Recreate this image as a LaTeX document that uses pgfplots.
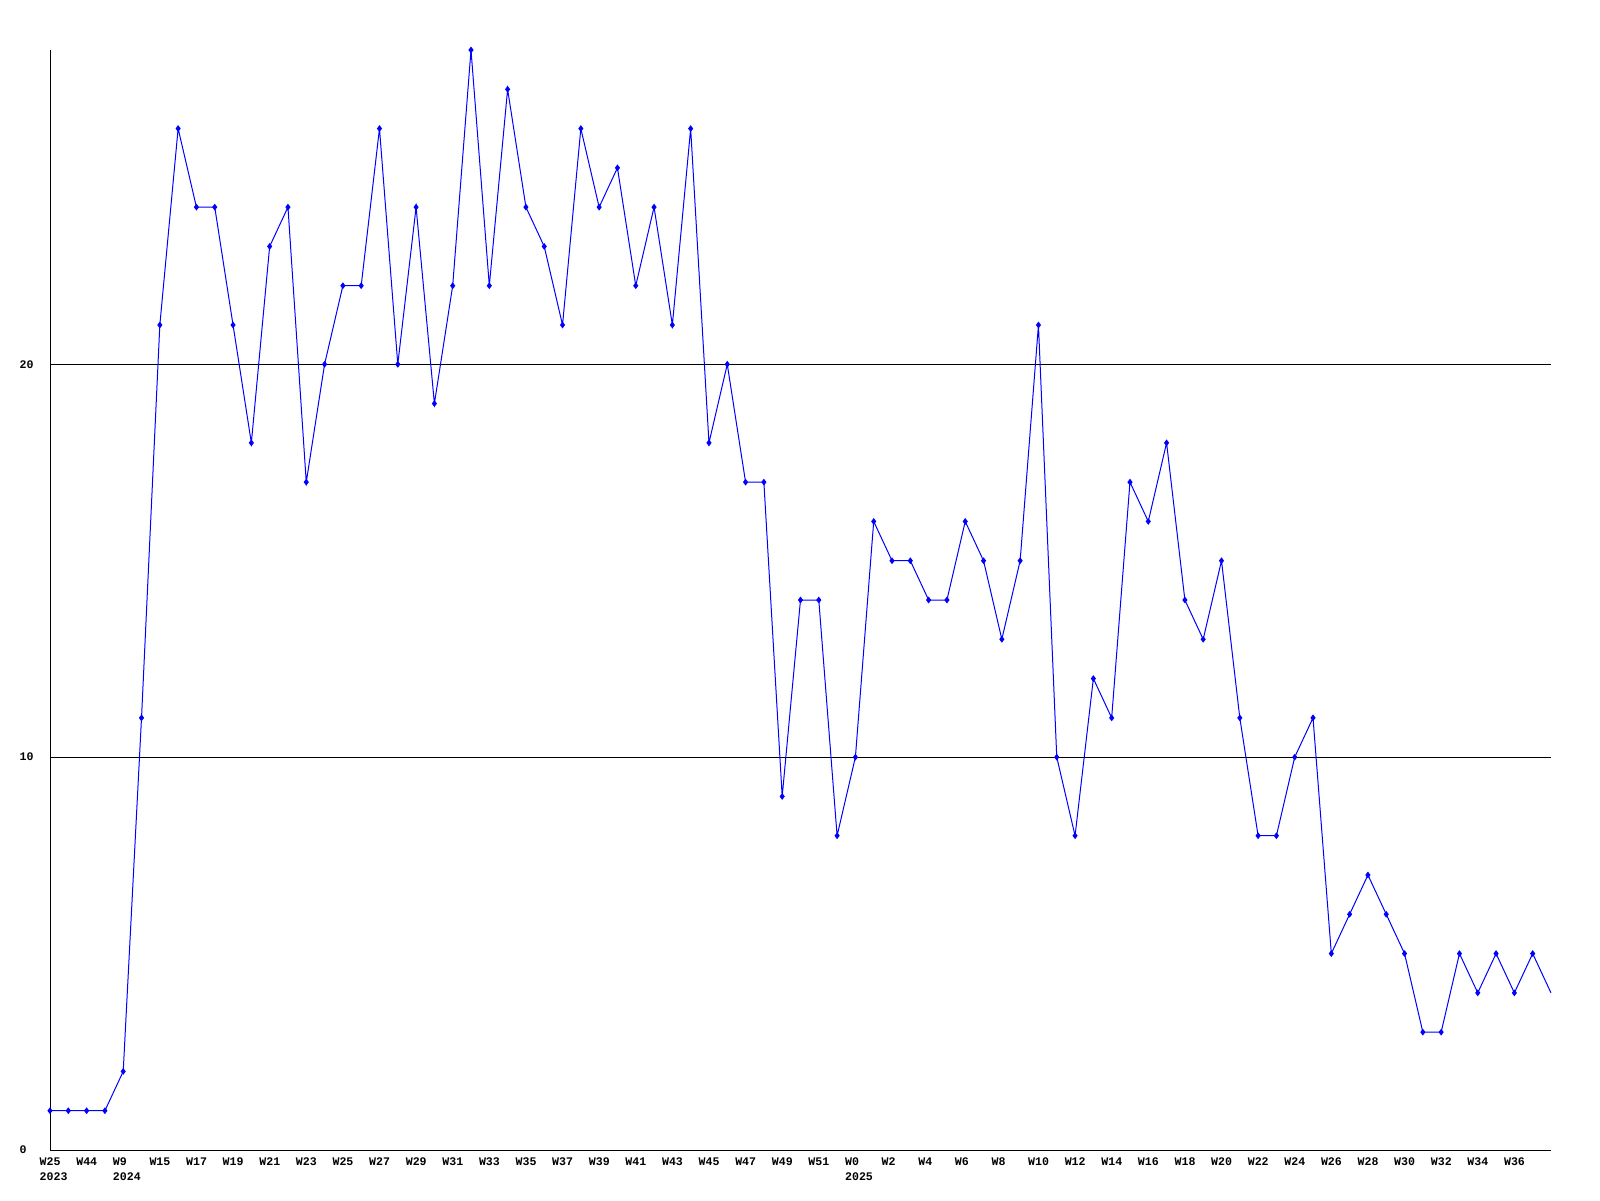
\documentclass[border=0pt]{standalone}
\usepackage{pgfplots}
\pgfplotsset{compat=1.18}
\usepackage{fontspec}
\setmainfont{Liberation Mono}
\newcommand{\tl}[2]{\vtop{\baselineskip=15pt\hbox{#1}\hbox{#2}}}
\definecolor{gdblue}{RGB}{0,0,255}
\begin{document}
\begin{tikzpicture}
\begin{axis}[
  at={(50pt,50pt)}, anchor=south west,
  scale only axis, width=1501pt, height=1100pt,
  xmin=0, xmax=82, ymin=0, ymax=28,
  axis lines*=left,
  axis line style={black, line width=1pt},
  major tick length=0pt,
  ytick={0,10,20}, yticklabels={0,10,20},
  ymajorgrids, grid style={black, line width=1pt},
  xtick={0,2,...,80},
  xticklabels={{\tl{W25}{2023}},W44,{\tl{W9}{2024}},W15,W17,W19,W21,W23,W25,W27,W29,W31,W33,W35,W37,W39,W41,W43,W45,W47,W49,W51,{\tl{W0}{2025}},W2,W4,W6,W8,W10,W12,W14,W16,W18,W20,W22,W24,W26,W28,W30,W32,W34,W36},
  xticklabel style={anchor=base west, inner sep=0pt, xshift=-10.5pt, yshift=-15.5pt, font=\fontsize{11.6}{15}\selectfont\bfseries},
  yticklabel style={anchor=west, inner sep=0pt, xshift=-30.5pt, font=\fontsize{11.6}{15}\selectfont\bfseries},
  clip=false,
]
\addplot[gdblue, line width=1pt, mark=diamond*, mark size=2.6pt, mark options={solid, fill=gdblue}] coordinates {
(0,1)(1,1)(2,1)(3,1)(4,2)(5,11)(6,21)(7,26)(8,24)(9,24)(10,21)(11,18)(12,23)(13,24)(14,17)(15,20)(16,22)(17,22)(18,26)(19,20)(20,24)(21,19)(22,22)(23,28)(24,22)(25,27)(26,24)(27,23)(28,21)(29,26)(30,24)(31,25)(32,22)(33,24)(34,21)(35,26)(36,18)(37,20)(38,17)(39,17)(40,9)(41,14)(42,14)(43,8)(44,10)(45,16)(46,15)(47,15)(48,14)(49,14)(50,16)(51,15)(52,13)(53,15)(54,21)(55,10)(56,8)(57,12)(58,11)(59,17)(60,16)(61,18)(62,14)(63,13)(64,15)(65,11)(66,8)(67,8)(68,10)(69,11)(70,5)(71,6)(72,7)(73,6)(74,5)(75,3)(76,3)(77,5)(78,4)(79,5)(80,4)(81,5)
};
\addplot[gdblue, line width=1pt] coordinates {(81,5)(82,4)};
\end{axis}
\pgfresetboundingbox
\useasboundingbox (0,0) rectangle (1600pt,1200pt);
\end{tikzpicture}
\end{document}
